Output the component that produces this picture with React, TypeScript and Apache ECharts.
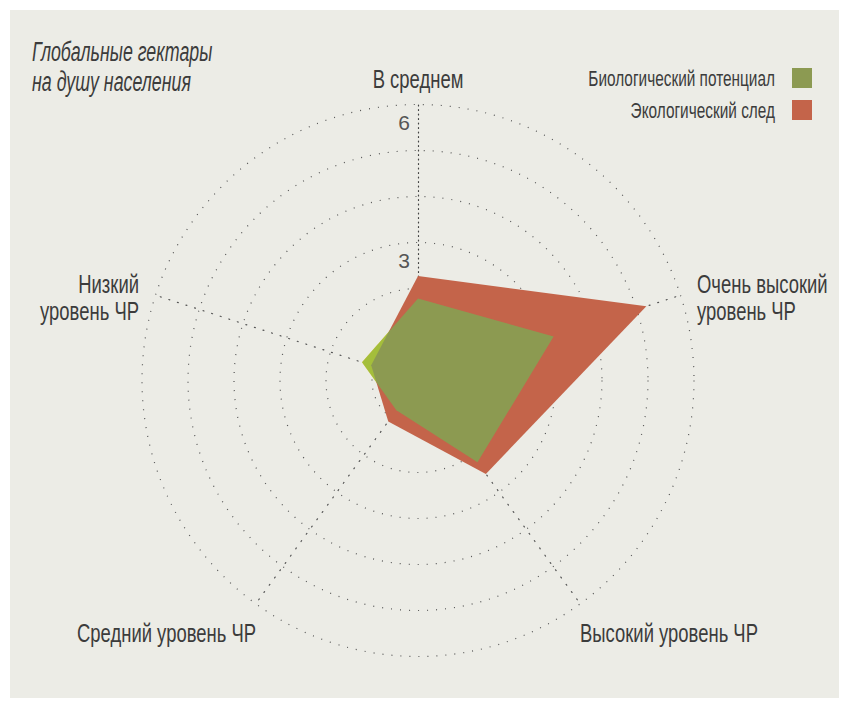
import React, { useEffect, useRef } from 'react';
import * as echarts from 'echarts';

const FONT = "'Liberation Sans', 'DejaVu Sans', sans-serif";

// Indicators in ECharts radar order (counter-clockwise from the top)
const indicatorNames = [
  'В среднем',
  'Низкий\nуровень ЧР',
  'Средний уровень ЧР',
  'Высокий уровень ЧР',
  'Очень высокий\nуровень ЧР',
];
const seriesNames = ['Биологический потенциал', 'Экологический след'];
const biocapacity = [1.78, 1.28, 0.8, 2.2, 3.1];
const footprint = [2.27, 1.07, 1.1, 2.51, 5.22];
const tickLabels = [3, 6];
const axisMax = 6;
const titleLines = ['Глобальные гектары', 'на душу населения'];

const BG = '#ecece6';
const RED = '#c4644a';
const OLIVE = '#8c9a52';
const TEXT = '#3c3c3c';
const NARROW = 0.71;

export default function App() {
  const ref = useRef<HTMLDivElement>(null);
  useEffect(() => {
    const chart = echarts.init(ref.current!, null, { renderer: 'svg' });
    const dotted = { color: '#555', width: 1.2, type: [1, 8] as number[] };
    const nameText = (text: string, x: number, y: number, align: string) => ({
      type: 'text',
      x,
      y,
      scaleX: NARROW,
      style: { text, fontFamily: FONT, fontSize: 26, lineHeight: 27, fill: TEXT, align, verticalAlign: 'middle' },
    });
    const legendColors = [OLIVE, RED];
    const legendItems: any[] = [];
    seriesNames.forEach((n, i) => {
      legendItems.push({
        type: 'rect',
        shape: { x: 792, y: 68 + i * 32, width: 20, height: 20 },
        style: { fill: legendColors[i] },
      });
      legendItems.push({
        type: 'text',
        x: 775,
        y: 78 + i * 32,
        scaleX: 0.7,
        style: { text: n, fontFamily: FONT, fontSize: 22, fill: TEXT, align: 'right', verticalAlign: 'middle' },
      });
    });
    chart.setOption({
      animation: false,
      radar: {
        center: [418, 380.5],
        radius: 276,
        startAngle: 90,
        shape: 'circle',
        splitNumber: axisMax,
        axisName: { show: false },
        axisLabel: { show: false },
        axisTick: { show: false },
        splitArea: { show: false },
        splitLine: { lineStyle: dotted },
        axisLine: { lineStyle: dotted },
        indicator: indicatorNames.map((n, i) => {
          const base: any = { name: n, min: 0, max: axisMax };
          if (i === 0) {
            base.axisLabel = {
              show: true,
              formatter: (v: number) => (tickLabels.includes(v) ? String(v) : ''),
              fontFamily: FONT,
              fontSize: 21,
              color: '#555',
              margin: 8,
              verticalAlign: 'top',
              padding: [7, 0, 0, 0],
            };
            base.axisLine = { lineStyle: { color: '#444', width: 1.2, type: [1, 3.5] } };
          }
          return base;
        }),
      },
      series: [
        {
          type: 'radar',
          symbol: 'none',
          silent: true,
          lineStyle: { width: 0 },
          data: [
            {
              name: seriesNames[0] + ' ',
              value: biocapacity,
              itemStyle: { color: 'rgb(255,190,19)' },
              lineStyle: { width: 0 },
              areaStyle: { color: 'rgb(255,190,19)', opacity: 1 },
            },
            {
              name: seriesNames[1],
              value: footprint,
              itemStyle: { color: RED },
              lineStyle: { width: 0 },
              areaStyle: { color: RED, opacity: 1 },
            },
            {
              name: seriesNames[0],
              value: biocapacity,
              itemStyle: { color: OLIVE },
              lineStyle: { width: 0 },
              areaStyle: { color: 'rgb(103,190,87)', opacity: 0.6 },
            },
          ],
        },
      ],
      graphic: [
        {
          type: 'text',
          x: 32,
          y: 67,
          scaleX: 0.66,
          style: {
            text: titleLines.join('\n'),
            fontFamily: FONT,
            fontStyle: 'italic',
            fontSize: 27,
            lineHeight: 30,
            fill: TEXT,
            align: 'left',
            verticalAlign: 'middle',
          },
        },
        nameText(indicatorNames[0], 418, 79, 'center'),
        nameText(indicatorNames[1], 139, 298, 'right'),
        nameText(indicatorNames[2], 166.5, 633, 'center'),
        nameText(indicatorNames[3], 580, 633, 'left'),
        nameText(indicatorNames[4], 697, 298, 'left'),
        ...legendItems,
      ],
    });
    return () => chart.dispose();
  }, []);
  return (
    <div style={{ position: 'absolute', left: 0, top: 0, width: 849, height: 708, background: '#fff' }}>
      <div
        ref={ref}
        style={{ width: 849, height: 708, background: BG, boxShadow: 'inset 0 0 0 10px #fff' }}
      />
    </div>
  );
}
